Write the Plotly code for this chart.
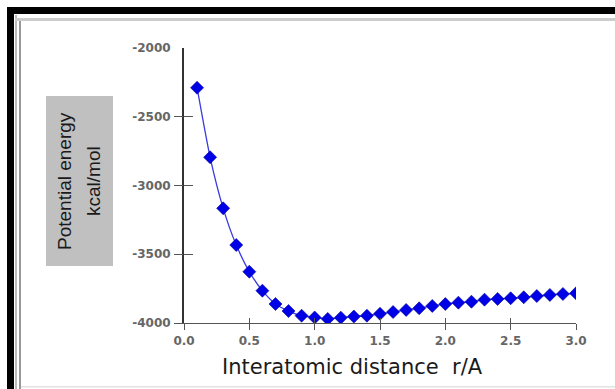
import plotly.graph_objects as go

# ---- data ----
r_values = [0.1, 0.2, 0.3, 0.4, 0.5, 0.6, 0.7, 0.8, 0.9, 1.0,
            1.1, 1.2, 1.3, 1.4, 1.5, 1.6, 1.7, 1.8, 1.9, 2.0,
            2.1, 2.2, 2.3, 2.4, 2.5, 2.6, 2.7, 2.8, 2.9, 3.0]
energy = [-2289, -2795, -3166, -3433, -3627, -3765, -3862, -3913, -3947, -3960,
          -3970, -3961, -3953, -3947, -3933, -3920, -3905, -3893, -3876, -3862,
          -3852, -3845, -3830, -3825, -3820, -3813, -3804, -3796, -3789, -3784]
x_ticks = [0.0, 0.5, 1.0, 1.5, 2.0, 2.5, 3.0]
x_tick_labels = ["0.0", "0.5", "1.0", "1.5", "2.0", "2.5", "3.0"]
y_ticks = [-4000, -3500, -3000, -2500, -2000]
y_tick_labels = ["-4000", "-3500", "-3000", "-2500", "-2000"]

W, H = 615, 389
L, R, T, B = 184, 576, 48, 323  # plot area in pixels


def px(x):
    return (x - L) / (R - L)


def py(y):
    return (B - y) / (B - T)


fig = go.Figure()
fig.add_trace(go.Scatter(
    x=r_values, y=energy, mode="lines+markers",
    line=dict(color="#3a3ae0", width=1.3, shape="spline", smoothing=0.6),
    marker=dict(symbol="diamond", size=10, color="#0000e6",
                line=dict(color="#00009a", width=0.6)),
    hoverinfo="skip", showlegend=False,
))
# invisible copies for overlay axes (crossing tick marks)
for ya in ("y2", "y3"):
    fig.add_trace(go.Scatter(
        x=r_values, y=energy, mode="markers", xaxis="x2", yaxis=ya,
        marker=dict(opacity=0), hoverinfo="skip", showlegend=False,
    ))

tickfont = dict(family="DejaVu Sans", size=12, color="#666666", weight="bold")
tick_style = dict(tickwidth=1.2, tickcolor="#555555")

fig.update_layout(
    width=W, height=H,
    margin=dict(l=L, r=W - R, t=T, b=H - B),
    paper_bgcolor="white", plot_bgcolor="white",
    xaxis=dict(range=[0, 3.0], tickvals=x_ticks, ticktext=x_tick_labels,
               showgrid=False, zeroline=False, showline=True,
               linecolor="#555555", linewidth=1.2,
               ticks="outside", ticklen=6, tickfont=tickfont, **tick_style),
    yaxis=dict(range=[-4000, -2000], tickvals=y_ticks, ticktext=y_tick_labels,
               showgrid=False, zeroline=False, showline=True,
               linecolor="#333333", linewidth=2,
               ticks="outside", ticklen=9, tickwidth=1.2,
               tickcolor="rgba(0,0,0,0)", tickfont=tickfont),
    xaxis2=dict(range=[0, 3.0], tickvals=x_ticks, overlaying="x", anchor="y2",
                showgrid=False, zeroline=False, showline=False,
                showticklabels=False, ticks="inside", ticklen=5, **tick_style),
    yaxis2=dict(range=[-4000, -2000], tickvals=y_ticks[:-1], overlaying="y",
                anchor="x2", showgrid=False, zeroline=False, showline=False,
                showticklabels=False, ticks="inside", ticklen=9, **tick_style),
    yaxis3=dict(range=[-4000, -2000], tickvals=y_ticks[:-1], overlaying="y",
                anchor="x2", showgrid=False, zeroline=False, showline=False,
                showticklabels=False, ticks="outside", ticklen=9, **tick_style),
)

shapes = [
    # black outer frame
    dict(type="rect", x0=px(7), x1=px(615), y0=py(7), y1=py(14),
         fillcolor="black", line=dict(width=0)),
    dict(type="rect", x0=px(7), x1=px(14), y0=py(7), y1=py(389),
         fillcolor="black", line=dict(width=0)),
    # gray inner frame
    dict(type="rect", x0=px(15), x1=px(17), y0=py(15), y1=py(389),
         fillcolor="#bbbbbb", line=dict(width=0)),
    dict(type="rect", x0=px(19), x1=px(21), y0=py(18), y1=py(389),
         fillcolor="#999999", line=dict(width=0)),
    dict(type="rect", x0=px(15), x1=px(615), y0=py(18), y1=py(21),
         fillcolor="#cccccc", line=dict(width=0)),
    dict(type="rect", x0=px(21), x1=px(615), y0=py(386), y1=py(387.5),
         fillcolor="#e2e2e2", line=dict(width=0)),
    # gray box behind y title
    dict(type="rect", x0=px(46), x1=px(113), y0=py(96), y1=py(266),
         fillcolor="#c0c0c0", line=dict(width=0)),
]
for s in shapes:
    s.update(xref="paper", yref="paper", layer="below")
fig.update_layout(shapes=shapes)

fig.add_annotation(text="Potential energy", xref="paper", yref="paper",
                   x=px(64), y=py(181), textangle=-90, showarrow=False,
                   xanchor="center", yanchor="middle",
                   font=dict(family="Liberation Sans", size=19, color="#1a1a1a"))
fig.add_annotation(text="kcal/mol", xref="paper", yref="paper",
                   x=px(93), y=py(181), textangle=-90, showarrow=False,
                   xanchor="center", yanchor="middle",
                   font=dict(family="Liberation Sans", size=19, color="#1a1a1a"))
fig.add_annotation(text="Interatomic distance  r/A", xref="paper", yref="paper",
                   x=px(352), y=py(367), showarrow=False,
                   xanchor="center", yanchor="middle",
                   font=dict(family="DejaVu Sans", size=21, color="#1a1a1a"))

fig.write_html("out.html",
               config={"displayModeBar": False},
               post_script="document.body.style.margin='0';"
                           "document.body.style.overflow='hidden';")
